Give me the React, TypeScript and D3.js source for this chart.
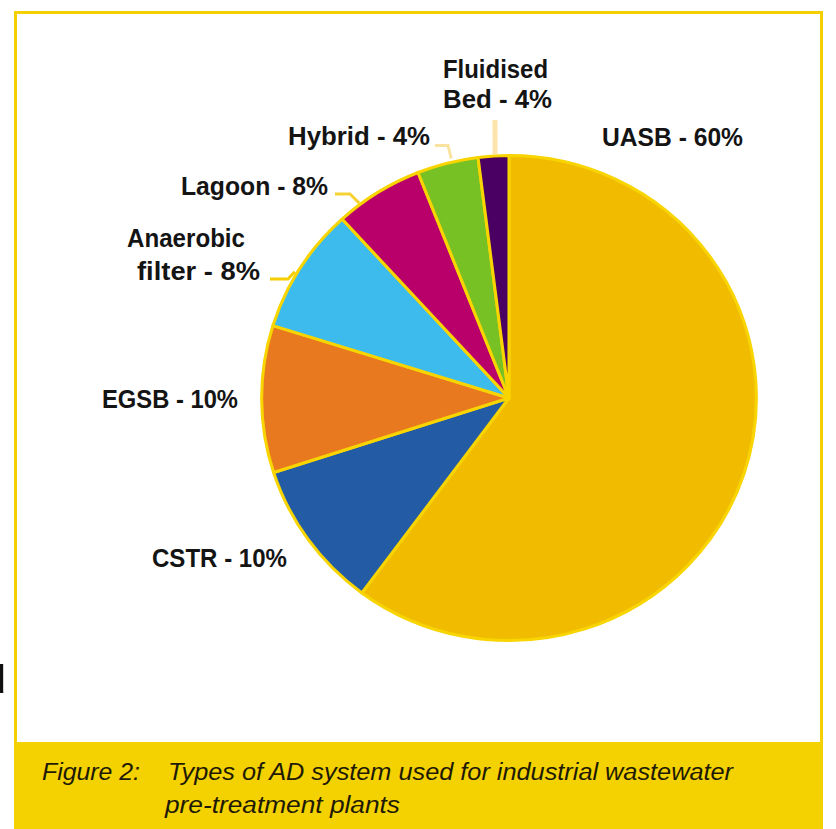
import React from 'react';
import * as d3 from 'd3';

// ---- data ----
const categories = ['UASB', 'CSTR', 'EGSB', 'Anaerobic\nfilter', 'Lagoon', 'Hybrid', 'Fluidised\nBed'];
const sliceShares = [60.2, 9.9, 9.8, 8.4, 5.8, 4.0, 2.0];
const labelPercents = [60, 10, 10, 8, 8, 4, 4];
const sliceColors = ['#F1BC00', '#235BA5', '#E8791E', '#3CBBEC', '#B9006A', '#77C124', '#4A0062'];
const captionLabel = 'Figure 2:';
const captionLines = ['Types of AD system used for industrial wastewater', 'pre-treatment plants'];

// ---- layout ----
const W = 836;
const H = 829;
const cx = 509;
const cy = 398;
const R = 242.5;
const xStretch = 1.02;

// label positions: left x, first baseline, line height, widths per line
const labelLayout = [
  { x: 602, y: 146, lh: 30, widths: [141] },
  { x: 152, y: 567, lh: 30, widths: [135] },
  { x: 102, y: 408, lh: 30, widths: [136] },
  { x: 127, y: 247, lh: 33, widths: [118, 123], dx: [0, 10] },
  { x: 181, y: 195, lh: 30, widths: [147] },
  { x: 288, y: 145, lh: 30, widths: [142] },
  { x: 443, y: 78, lh: 30, widths: [105, 109] },
];

// leaders: elbow points, then end on the pie edge at an angle (deg)
const leaders = [
  { idx: 3, pts: [[270, 279], [288, 279]], angle: 301, r: 245, color: '#F6CE00', w: 3 },
  { idx: 4, pts: [[335, 194], [350, 194]], angle: 323, r: 244, color: '#F7D235', w: 3 },
  { idx: 5, pts: [[435, 145.5], [448, 145.5]], angle: 346.7, r: 246, color: '#FAE2A0', w: 3 },
  { idx: 6, pts: [[495, 120]], angle: 356.8, r: 244, color: '#FCE5AA', w: 5 },
];

const pieGen = d3.pie<number>().sort(null).value((d) => d);
const arcGen = d3.arc<d3.PieArcDatum<number>>().innerRadius(0).outerRadius(R);

function edgePoint(angleDeg: number, r: number): [number, number] {
  const a = (angleDeg * Math.PI) / 180;
  return [cx + r * xStretch * Math.sin(a), cy - r * Math.cos(a)];
}

export default function App() {
  const arcs = pieGen(sliceShares);
  const line = d3.line();
  const labelFont = "'Liberation Sans', Arial, sans-serif";

  return (
    <svg
      width={W}
      height={H}
      viewBox={`0 0 ${W} ${H}`}
      style={{ position: 'absolute', left: 0, top: 0, background: '#fff' }}
    >
      <rect x={0} y={0} width={W} height={H} fill="#ffffff" />
      {/* frame */}
      <rect x={15.5} y={12.5} width={806} height={H} fill="none" stroke="#F5D000" strokeWidth={3} />
      {/* clipped glyph at far left */}
      <text
        x={7}
        y={693}
        textAnchor="end"
        fontFamily={labelFont}
        fontSize={56}
        fill="#111"
      >
        ú
      </text>

      {/* pie */}
      <g transform={`translate(${cx},${cy}) scale(${xStretch},1)`}>
        {arcs.map((a, i) => (
          <path
            key={i}
            d={arcGen(a) || ''}
            fill={sliceColors[i]}
            stroke="#F8D400"
            strokeWidth={3}
            strokeLinejoin="round"
          />
        ))}
      </g>

      {/* leaders */}
      {leaders.map((l, i) => {
        const end = edgePoint(l.angle, l.r);
        const pts = [...l.pts, end] as [number, number][];
        return (
          <path key={i} d={line(pts) || ''} fill="none" stroke={l.color} strokeWidth={l.w} />
        );
      })}

      {/* labels */}
      {categories.map((name, i) => {
        const text = `${name} - ${labelPercents[i]}%`;
        const lines = text.split('\n');
        const lay = labelLayout[i];
        return (
          <g key={i}>
            {lines.map((t, j) => (
              <text
                key={j}
                x={lay.x + (lay.dx ? lay.dx[j] : 0)}
                y={lay.y + j * lay.lh}
                fontFamily={labelFont}
                fontSize={25}
                fontWeight={600}
                fill="#141414"
                textLength={lay.widths[j]}
                lengthAdjust="spacingAndGlyphs"
              >
                {t}
              </text>
            ))}
          </g>
        );
      })}

      {/* caption bar */}
      <rect x={14} y={742} width={808} height={H - 742} fill="#F4D100" />
      <text
        x={42}
        y={780}
        fontFamily={labelFont}
        fontStyle="italic"
        fontSize={23}
        fill="#1e1a05"
        textLength={98}
        lengthAdjust="spacingAndGlyphs"
      >
        {captionLabel}
      </text>
      <text
        x={168}
        y={780}
        fontFamily={labelFont}
        fontStyle="italic"
        fontSize={23}
        fill="#1e1a05"
        textLength={565}
        lengthAdjust="spacingAndGlyphs"
      >
        {captionLines[0]}
      </text>
      <text
        x={165}
        y={813}
        fontFamily={labelFont}
        fontStyle="italic"
        fontSize={23}
        fill="#1e1a05"
        textLength={235}
        lengthAdjust="spacingAndGlyphs"
      >
        {captionLines[1]}
      </text>
    </svg>
  );
}
